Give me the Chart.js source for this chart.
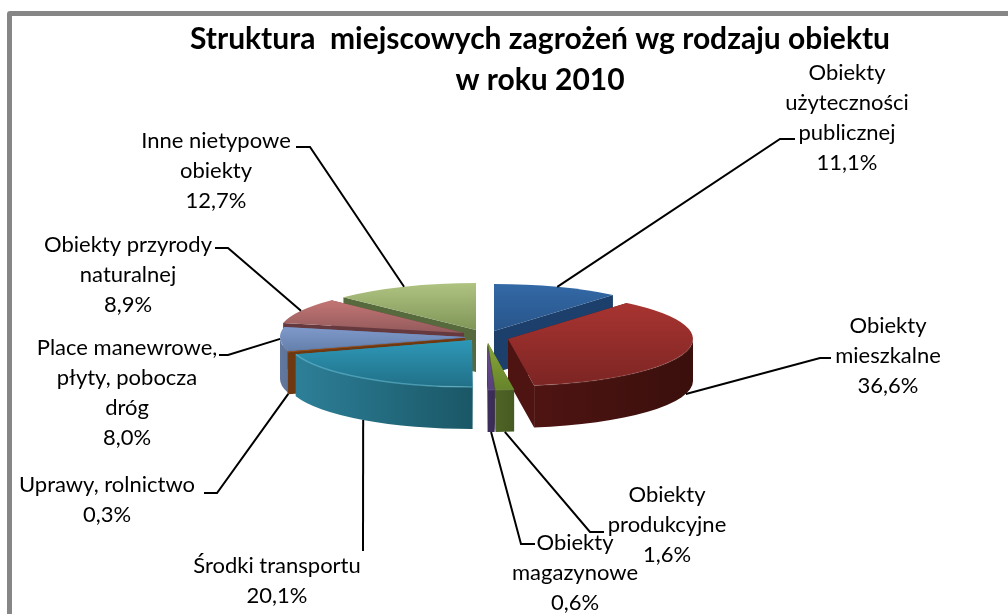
<!DOCTYPE html>
<html lang="pl">
<head>
<meta charset="utf-8">
<title>Struktura miejscowych zagrożeń</title>
<script src="https://cdn.jsdelivr.net/npm/chart.js@4"></script>
<style>
  html, body { margin: 0; padding: 0; background: #fff; overflow: hidden; }
  #frame { position: absolute; left: 7px; top: 11px; width: 1040px; height: 640px; border: 5px solid #868686; border-radius: 3px; }
  canvas { position: absolute; left: 0; top: 0; }
</style>
</head>
<body>
<div id="frame"></div>
<canvas id="wykres" width="1008" height="614"></canvas>
<script>
const kategorie = [
  ["Obiekty", "użyteczności", "publicznej"],
  ["Obiekty", "mieszkalne"],
  ["Obiekty", "produkcyjne"],
  ["Obiekty", "magazynowe"],
  ["Środki transportu"],
  ["Uprawy, rolnictwo"],
  ["Place manewrowe,", "płyty, pobocza", "dróg"],
  ["Obiekty przyrody", "naturalnej"],
  ["Inne nietypowe", "obiekty"]
];
const wartosci = [11.1, 36.6, 1.6, 0.6, 20.1, 0.3, 8.0, 8.9, 12.7];
const tytul = ["Struktura  miejscowych zagrożeń wg rodzaju obiektu", "w roku 2010"];

// wyglad wycinkow: gora jasna, gora ciemna, sciana lewa, sciana prawa
const kolory = [
  ["#3369a6", "#28558a", "#1c3f6b", "#1a3a63"],
  ["#a83431", "#7c2523", "#4e1412", "#3a0f0c"],
  ["#8aa63c", "#66842a", "#4f6426", "#475a22"],
  ["#6a4f94", "#58407c", "#3e2e5c", "#3a2a56"],
  ["#2e98b8", "#217087", "#2d7f98", "#1a5766"],
  ["#b8601a", "#9a4f14", "#6e3810", "#6e3810"],
  ["#7f99cb", "#6580ab", "#62789f", "#5f7498"],
  ["#c37674", "#935a5c", "#66393e", "#5e3439"],
  ["#b0c381", "#7f9658", "#566a3d", "#50633a"]
];
// przesuniecie wycinka od srodka [dx, dy] (eksplozja)
const przesuniecia = [[14, -3], [28, 5], [8, 9], [7, 9], [-8, 6], [-15, 4], [-15, 3], [-16, -1], [-4, -4]];
const splaszczenie = 0.254;
const glebokosc = 42;

// etykiety: srodek tekstu x, y pierwszej linii oraz zalamanie i koniec linii odniesienia
const etykiety = [
  { x: 847, y: 73,  linia: [[780, 139], [795, 139]] },
  { x: 888, y: 326, linia: [[820, 358], [831, 358]] },
  { x: 667, y: 495, linia: [[590, 532], [604, 532]] },
  { x: 575, y: 543, linia: [[521, 544], [535, 544]] },
  { x: 277, y: 566, linia: [[363, 551]] },
  { x: 107, y: 485, linia: [[217, 493], [204, 493]] },
  { x: 127, y: 348, linia: [[228, 355], [219, 355]] },
  { x: 128, y: 245, linia: [[228, 248], [215, 248]] },
  { x: 216, y: 141, linia: [[310, 147], [296, 147]] }
];
const liczba = v => v.toFixed(1).replace(".", ",") + "%";

function gradientGory(ctx, el, i) {
  const ys = [0, Math.sin(el.startAngle), Math.sin(el.endAngle)];
  if (el.startAngle < Math.PI / 2 && el.endAngle > Math.PI / 2) ys.push(1);
  if (el.startAngle < -Math.PI / 2 + 0.01) ys.push(-1);
  const g = ctx.createLinearGradient(0, el.y + Math.min(...ys) * el.outerRadius, 0, el.y + Math.max(...ys) * el.outerRadius);
  g.addColorStop(0, kolory[i][0]);
  g.addColorStop(1, kolory[i][1]);
  return g;
}

function rysujWycinek(ctx, el, i) {
  const [dx, dy] = przesuniecia[i];
  const R = el.outerRadius;
  const ry = R * splaszczenie;
  const x0 = el.x + dx, y0 = el.y + dy;
  const pkt = a => [x0 + Math.cos(a) * R, y0 + Math.sin(a) * ry];

  // sciany ciecia
  [el.startAngle, el.endAngle].forEach(a => {
    const [px, py] = pkt(a);
    ctx.fillStyle = kolory[i][2];
    ctx.beginPath();
    ctx.moveTo(x0, y0);
    ctx.lineTo(px, py);
    ctx.lineTo(px, py + glebokosc);
    ctx.lineTo(x0, y0 + glebokosc);
    ctx.closePath();
    ctx.fill();
  });

  // sciana zewnetrzna, tylko od frontu
  const od = Math.max(el.startAngle, 0), doKata = Math.min(el.endAngle, Math.PI);
  if (doKata > od) {
    const g = ctx.createLinearGradient(pkt(od)[0], 0, pkt(doKata)[0], 0);
    g.addColorStop(0, kolory[i][3]);
    g.addColorStop(1, kolory[i][2]);
    ctx.fillStyle = g;
    ctx.beginPath();
    ctx.ellipse(x0, y0, R, ry, 0, od, doKata);
    ctx.ellipse(x0, y0 + glebokosc, R, ry, 0, doKata, od, true);
    ctx.closePath();
    ctx.fill();
  }

  // gora wycinka rysuje sam element luku
  ctx.save();
  ctx.translate(x0, y0);
  ctx.scale(1, splaszczenie);
  ctx.translate(-el.x, -el.y);
  el.options.backgroundColor = gradientGory(ctx, el, i);
  el.draw(ctx);
  ctx.restore();

  // jasna krawedz na froncie
  if (doKata > od) {
    ctx.strokeStyle = i === 4 ? "rgba(120,205,225,.45)" : "rgba(255,255,255,.08)";
    ctx.lineWidth = 1.5;
    ctx.beginPath();
    ctx.ellipse(x0, y0, R, ry, 0, od, doKata);
    ctx.stroke();
  }
}

const tort3d = {
  id: "tort3d",
  beforeDatasetsDraw(chart) {
    const ctx = chart.ctx;
    const arcs = chart.getDatasetMeta(0).data;
    const kolejnosc = arcs.map((el, i) => i).sort((a, b) =>
      Math.sin((arcs[a].startAngle + arcs[a].endAngle) / 2) - Math.sin((arcs[b].startAngle + arcs[b].endAngle) / 2));
    kolejnosc.forEach(i => rysujWycinek(ctx, arcs[i], i));
    return false;
  }
};

const opisy = {
  id: "opisy",
  afterDraw(chart) {
    const ctx = chart.ctx;
    const arcs = chart.getDatasetMeta(0).data;
    ctx.save();
    ctx.textAlign = "center";
    ctx.textBaseline = "middle";
    ctx.fillStyle = "#000";

    ctx.font = "bold 30px Lato";
    ctx.fillText(tytul[0], 540, 39);
    ctx.fillText(tytul[1], 540, 80);

    ctx.font = "22px Lato";
    etykiety.forEach((e, i) => {
      const linie = kategorie[i].concat(liczba(wartosci[i]));
      linie.forEach((t, n) => ctx.fillText(t, e.x, e.y + n * 30));

      const el = arcs[i];
      const a = (el.startAngle + el.endAngle) / 2;
      const sx = el.x + przesuniecia[i][0] + Math.cos(a) * el.outerRadius;
      const sy = el.y + przesuniecia[i][1] + Math.sin(a) * el.outerRadius * splaszczenie + (Math.sin(a) > 0.1 ? glebokosc : 0);
      ctx.strokeStyle = "#000";
      ctx.lineWidth = 2;
      ctx.beginPath();
      ctx.moveTo(sx, sy);
      e.linia.forEach(p => ctx.lineTo(p[0], p[1]));
      ctx.stroke();
    });
    ctx.restore();
  }
};

new Chart(document.getElementById("wykres").getContext("2d"), {
  type: "pie",
  data: {
    labels: kategorie.map(k => k.join(" ")),
    datasets: [{
      data: wartosci,
      backgroundColor: kolory.map(k => k[0]),
      borderWidth: 0
    }]
  },
  options: {
    responsive: false,
    animation: false,
    radius: 185,
    layout: { padding: { right: 48, top: 54 } },
    plugins: { legend: { display: false }, title: { display: false }, tooltip: { enabled: false } }
  },
  plugins: [tort3d, opisy]
});
</script>
</body>
</html>
